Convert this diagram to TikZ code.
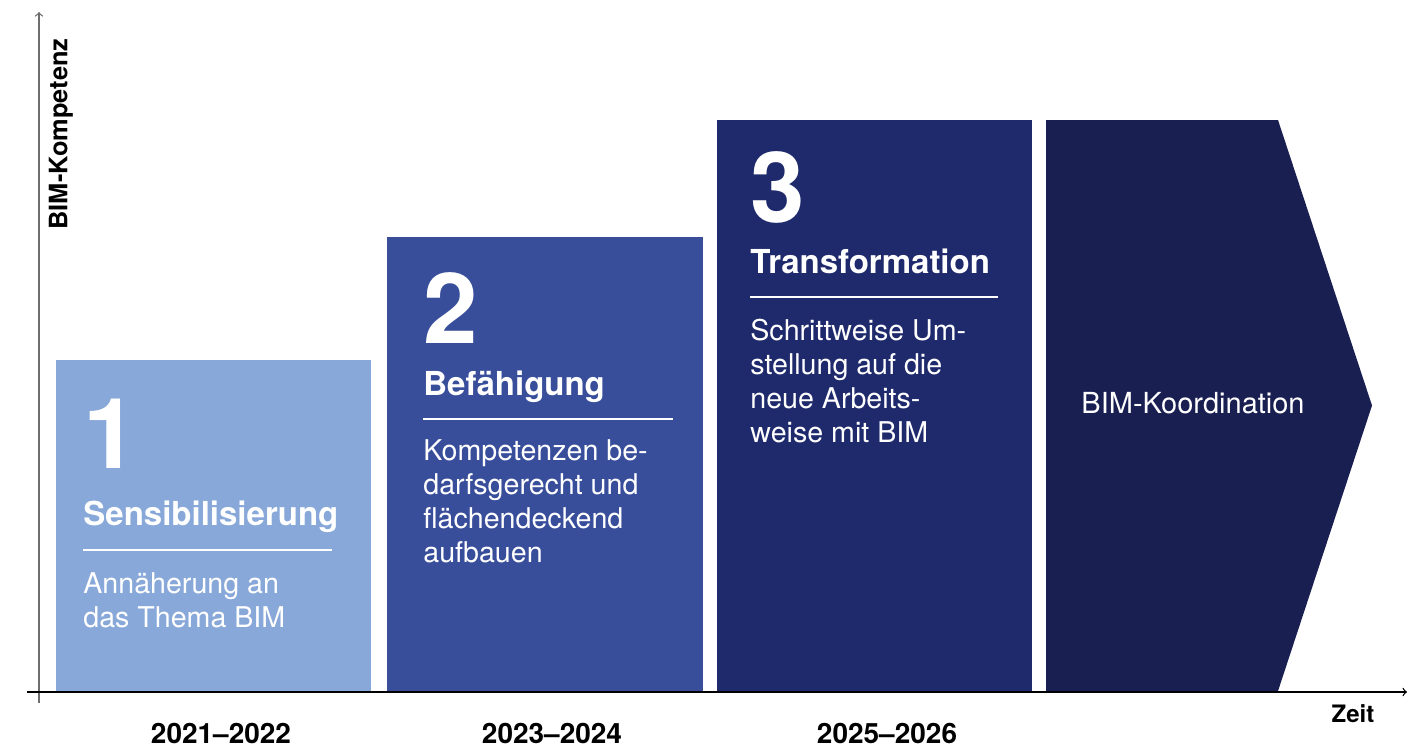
\documentclass[tikz,border=0pt]{standalone}
\usepackage{fontspec}
\setmainfont{TeX Gyre Heros}
\definecolor{stufeeins}{HTML}{87A8D8}
\definecolor{stufezwei}{HTML}{384E9B}
\definecolor{stufedrei}{HTML}{1F2A6C}
\definecolor{stufevier}{HTML}{1A1F52}
\definecolor{achsgrau}{HTML}{6E6E6E}
\begin{document}
\begin{tikzpicture}[x=0.5pt,y=-0.5pt,>=to,line join=round,
		nummer/.style={inner sep=0,anchor=base west,text=white,font=\fontsize{49}{49}\selectfont\bfseries},
		titel/.style={inner sep=0,anchor=base west,text=white,font=\fontsize{16.5}{20}\selectfont\bfseries},
		inhalt/.style={inner sep=0,anchor=base west,text=white,align=left,font=\fontsize{14.3}{17}\selectfont},
		jahr/.style={inner sep=0,anchor=base,font=\fontsize{14}{17}\selectfont\bfseries},
		trenner/.style={white,line width=0.6pt}]
			\def\xmin{27}
			\def\xmax{1407}
			\def\ymin{703}
			\def\ymax{12}
			\useasboundingbox (0,0) rectangle (1423,746);
			% Stufen
			\fill [stufeeins] (56,360) rectangle (371,691);
			\fill [stufezwei] (387,237) rectangle (703,691);
			\fill [stufedrei] (717,120) rectangle (1032,691);
			\fill [stufevier] (1046,120)--(1278,120)--(1372,405.5)--(1278,691)--(1046,691)--cycle;
			% Texte (base = Grundlinie der letzten Zeile)
			\node [nummer] (n1) at (83,468) {1};
			\node [titel] (t1) at (83,525) {Sensibilisierung};
			\node [inhalt] (i1) at (83,627) {Annäherung an\\das Thema BIM};
			\draw [trenner] (83,550)--(332,550);
			\node [nummer] (n2) at (423,343) {2};
			\node [titel] (t2) at (423,395) {Befähigung};
			\node [inhalt] (i2) at (423,562) {Kompetenzen be-\\darfsgerecht und\\flächendeckend\\aufbauen};
			\draw [trenner] (423,419)--(673,419);
			\node [nummer] (n3) at (750,222) {3};
			\node [titel] (t3) at (750,273) {Transformation};
			\node [inhalt] (i3) at (750,442) {Schrittweise Um-\\stellung auf die\\neue Arbeits-\\weise mit BIM};
			\draw [trenner] (750,297)--(998,297);
			\node [inhalt,anchor=base,font=\fontsize{14.5}{17}\selectfont] (i4) at (1193,413) {BIM-Koordination};
			% Achsen
			\draw [achsgrau,line width=0.65pt,->] (39,\ymin)--(39,\ymax);
			\draw [line width=0.65pt,->] (\xmin,692)--(\xmax,692);
			\node [rotate=90,inner sep=0,font=\fontsize{12.7}{15}\selectfont\bfseries] (ylab) at (61,134) {BIM-Kompetenz};
			\node [jahr,font=\fontsize{12}{15}\selectfont\bfseries] (xlab) at (1353,722) {Zeit};
			\node [jahr] (j1) at (221,743) {2021–2022};
			\node [jahr] (j2) at (552,743) {2023–2024};
			\node [jahr] (j3) at (887,743) {2025–2026};
		\end{tikzpicture}
\end{document}
